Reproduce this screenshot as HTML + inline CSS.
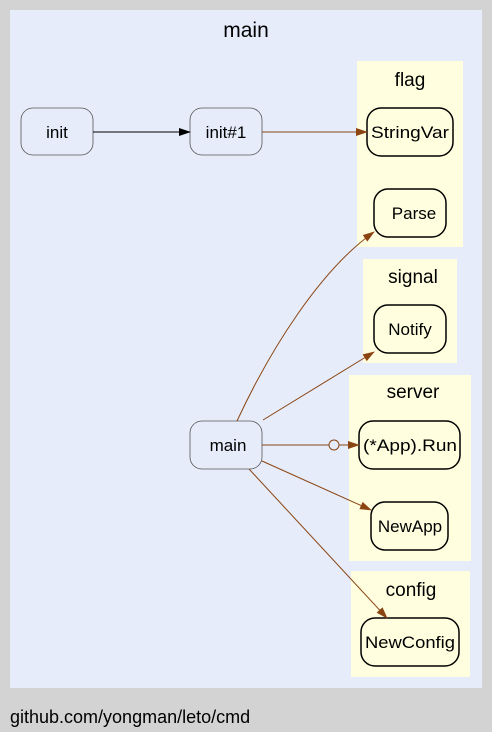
<!DOCTYPE html>
<html><head><style>
html,body{margin:0;padding:0;background:#d3d3d3;}
svg{display:block;font-family:"Liberation Sans",sans-serif;}
</style></head><body>
<svg width="492" height="732" viewBox="0 0 492 732" xmlns="http://www.w3.org/2000/svg">
<defs>
<marker id="ab" markerWidth="12" markerHeight="8" refX="11" refY="4" orient="auto" markerUnits="userSpaceOnUse"><path d="M0,0 L12,4 L0,8z" fill="#000"/></marker>
<marker id="ar" markerWidth="12" markerHeight="8" refX="11" refY="4" orient="auto" markerUnits="userSpaceOnUse"><path d="M0,0 L12,4 L0,8z" fill="#8b4513"/></marker>
</defs>
<rect x="0" y="0" width="492" height="732" fill="#d3d3d3"/>
<rect x="10" y="10" width="472" height="678" fill="#e6ecfa"/>
<text x="246" y="37" font-size="21" text-anchor="middle">main</text>
<g fill="#ffffe0">
<rect x="357" y="61" width="106" height="186"/>
<rect x="363" y="259" width="94" height="104"/>
<rect x="349" y="375" width="122" height="186"/>
<rect x="351" y="571" width="119" height="106"/>
</g>
<g font-size="19" text-anchor="middle">
<text x="410" y="86">flag</text>
<text x="413" y="283">signal</text>
<text x="413" y="398">server</text>
<text x="411" y="596">config</text>
</g>
<g fill="#e6ecfa" stroke="#555" stroke-width="0.8">
<rect x="21" y="108" width="72" height="47" rx="12"/>
<rect x="190" y="108" width="72" height="47" rx="12"/>
<rect x="190" y="421" width="72" height="48" rx="12"/>
</g>
<g fill="#ffffe0" stroke="#000" stroke-width="1.5">
<rect x="367" y="108" width="86" height="48" rx="14"/>
<rect x="374" y="189" width="72" height="48" rx="14"/>
<rect x="374" y="305" width="72" height="48" rx="14"/>
<rect x="359" y="421" width="101" height="48" rx="14"/>
<rect x="371" y="502" width="77" height="48" rx="14"/>
<rect x="361" y="618" width="98" height="48" rx="14"/>
</g>
<g font-size="17" text-anchor="middle">
<text x="57" y="138">init</text>
<text x="226" y="138">init#1</text>
<text x="228" y="451">main</text>
<text x="410" y="138" textLength="78" lengthAdjust="spacingAndGlyphs">StringVar</text>
<text x="414" y="219">Parse</text>
<text x="410" y="335">Notify</text>
<text x="410" y="451" textLength="94" lengthAdjust="spacingAndGlyphs">(*App).Run</text>
<text x="410" y="532">NewApp</text>
<text x="410" y="648" textLength="90" lengthAdjust="spacingAndGlyphs">NewConfig</text>
</g>
<line x1="93" y1="132" x2="190" y2="132" stroke="#000" marker-end="url(#ab)"/>
<g stroke="#8b4513" fill="none">
<line x1="262" y1="132" x2="367" y2="132" marker-end="url(#ar)"/>
<path d="M237,421 C270,350 320,270 374,232" marker-end="url(#ar)"/>
<line x1="263" y1="420" x2="374" y2="352" marker-end="url(#ar)"/>
<line x1="262" y1="445" x2="329" y2="445"/>
<circle cx="334" cy="445" r="5"/>
<line x1="339" y1="445" x2="359" y2="445" marker-end="url(#ar)"/>
<line x1="262" y1="461" x2="371" y2="510" marker-end="url(#ar)"/>
<line x1="249" y1="469" x2="387" y2="618" marker-end="url(#ar)"/>
</g>
<text x="10" y="723" font-size="18">github.com/yongman/leto/cmd</text>
</svg>
</body></html>
